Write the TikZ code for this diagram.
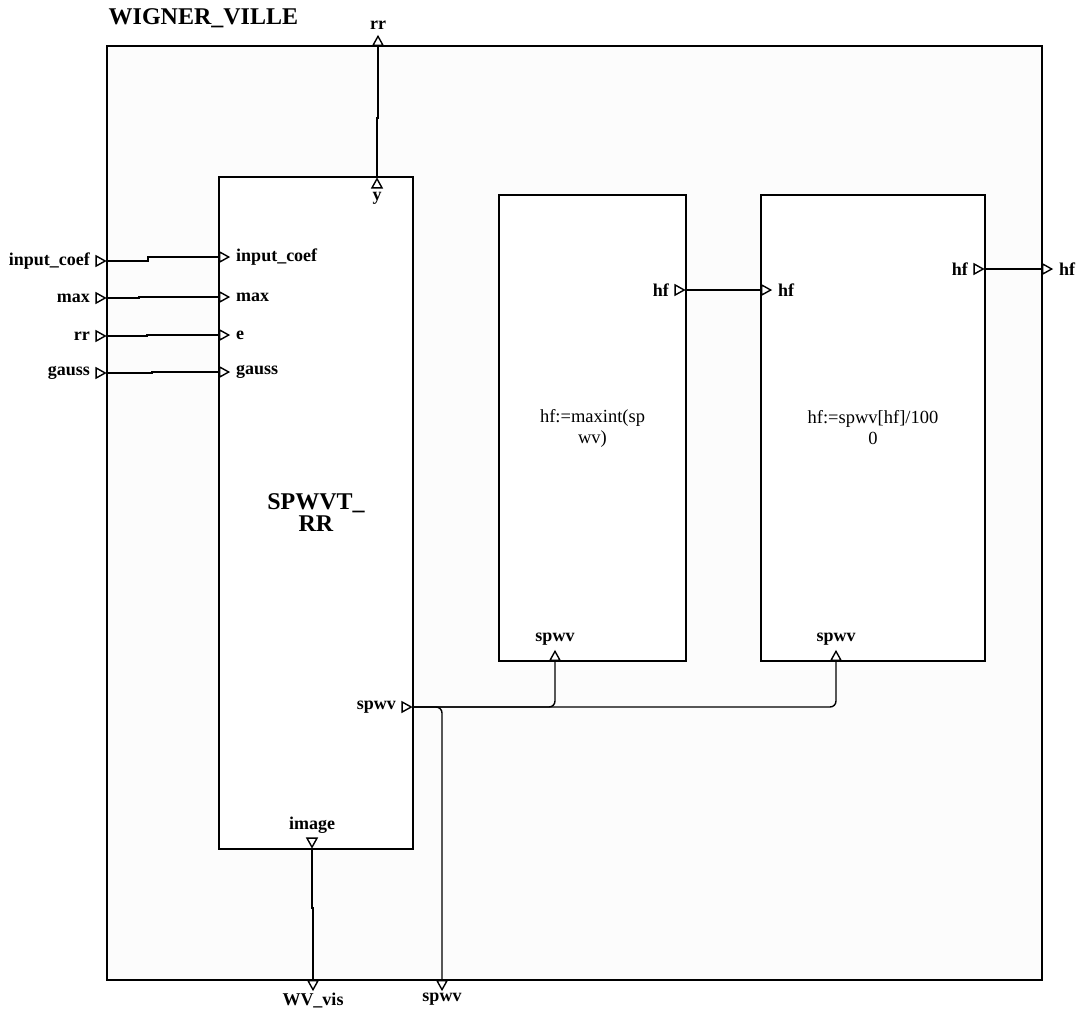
\documentclass[tikz,border=0pt]{standalone}
\usepackage{fontspec}
\setmainfont{Liberation Serif}
\usetikzlibrary{positioning, shapes.geometric}

\definecolor{sheet}{RGB}{252,252,252}

\begin{document}
\begin{tikzpicture}[
  x=1pt, y=-1pt, line width=1.4pt,
  block/.style = {draw, fill=white, rectangle, inner sep=0pt},
  port/.style  = {draw, fill=white, isosceles triangle, isosceles triangle stretches,
                  inner sep=0pt, minimum width=10pt, minimum height=9pt},
  lbl/.style   = {font=\fontsize{18}{20}\selectfont\bfseries, inner sep=0pt},
  code/.style  = {font=\fontsize{18.5}{21}\selectfont, align=center},
]
  \useasboundingbox (0,0) rectangle (1077,1010);

  % Outer frame
  \node[block, fill=sheet, minimum width=935pt, minimum height=934pt] (wv) at (574.5,513) {};
  \node[anchor=base west, inner sep=0pt, font=\fontsize{24}{26}\selectfont\bfseries]
      (title) at (108,24) {WIGNER\_VILLE};

  % Blocks
  \node[block, minimum width=194pt, minimum height=672pt, align=center,
        font=\fontsize{24}{22}\selectfont\bfseries] (spw) at (316,513) {SPWVT\_\\RR};
  \node[block, code, minimum width=187pt, minimum height=466pt] (maxi) at (592.5,428)
      {hf:=maxint(sp\\wv)};
  \node[block, code, minimum width=224pt, minimum height=466pt] (div) at (873,428)
      {hf:=spwv[hf]/100\\0};

  % Outer ports
  \node[port, anchor=apex]                            (oin1) at (107,261) {};
  \node[port, anchor=apex]                            (oin2) at (107,298) {};
  \node[port, anchor=apex]                            (oin3) at (107,336) {};
  \node[port, anchor=apex]                            (oin4) at (107,373) {};
  \node[port, anchor=lower side, shape border rotate=90]  (orr)   at (378,46)   {};
  \node[port, anchor=lower side, shape border rotate=270] (owv)   at (313,980)  {};
  \node[port, anchor=lower side, shape border rotate=270] (ospwv) at (442,980)  {};
  \node[port, anchor=lower side]                      (ohf)  at (1042,269) {};

  % Block ports
  \node[port, anchor=lower side]                      (pin1)  at (219,257) {};
  \node[port, anchor=lower side]                      (pin2)  at (219,297) {};
  \node[port, anchor=lower side]                      (pin3)  at (219,335) {};
  \node[port, anchor=lower side]                      (pin4)  at (219,372) {};
  \node[port, anchor=apex, shape border rotate=90]    (py)    at (377,177) {};
  \node[port, anchor=apex, shape border rotate=270]   (pimg)  at (312,849) {};
  \node[port, anchor=apex]                            (pspwv) at (413,707) {};
  \node[port, anchor=apex]                            (mhf)   at (686,290) {};
  \node[port, anchor=lower side, shape border rotate=90] (mspwv) at (555,661) {};
  \node[port, anchor=lower side]                      (dhfin) at (761,290) {};
  \node[port, anchor=apex]                            (dhfout) at (985,269) {};
  \node[port, anchor=lower side, shape border rotate=90] (dspwv) at (836,661) {};

  % Port labels
  \node[lbl, left=5pt of oin1]  (loin1)  {input\_coef};
  \node[lbl, left=5pt of oin2]  (loin2)  {max};
  \node[lbl, left=5pt of oin3]  (loin3)  {rr};
  \node[lbl, left=5pt of oin4]  (loin4)  {gauss};
  \node[lbl, above=4pt of orr]  (lorr)   {rr};
  \node[lbl, below=1pt of owv]  (lowv)   {WV\_vis};
  \node[lbl, below=1pt of ospwv] (lospwv) {spwv};
  \node[lbl, right=5pt of ohf]  (lohf)   {hf};
  \node[lbl, right=5pt of pin1] (lpin1)  {input\_coef};
  \node[lbl, right=5pt of pin2] (lpin2)  {max};
  \node[lbl, right=5pt of pin3] (lpin3)  {e};
  \node[lbl, right=5pt of pin4] (lpin4)  {gauss};
  \node[lbl, below=3pt of py]   (lpy)    {y};
  \node[lbl, above=3pt of pimg] (lpimg)  {image};
  \node[lbl, left=5pt of pspwv] (lpspwv) {spwv};
  \node[lbl, left=5pt of mhf]   (lmhf)   {hf};
  \node[lbl, above=3pt of mspwv] (lmspwv) {spwv};
  \node[lbl, right=5pt of dhfin] (ldhfin) {hf};
  \node[lbl, left=5pt of dhfout] (ldhfout) {hf};
  \node[lbl, above=3pt of dspwv] (ldspwv) {spwv};

  % Inputs into SPWVT_RR
  \draw (oin1.apex) -- ++(41,0) |- (pin1.lower side);
  \draw (oin2.apex) -- ++(32,0) |- (pin2.lower side);
  \draw (oin3.apex) -- ++(40,0) |- (pin3.lower side);
  \draw (oin4.apex) -- ++(45,0) |- (pin4.lower side);

  % Outputs of SPWVT_RR
  \draw (py.apex) -- ++(0,-59) -| (orr.lower side);
  \draw (pimg.apex) -- ++(0,59) -| (owv.lower side);
  \draw[rounded corners=6pt] (pspwv.apex) -| (mspwv.lower side);
  \draw[rounded corners=6pt] (pspwv.apex) -| (dspwv.lower side);
  \draw[rounded corners=6pt] (pspwv.apex) -| (ospwv.lower side);

  % hf chain
  \draw (mhf.apex) -- (dhfin.lower side);
  \draw (dhfout.apex) -- (ohf.lower side);
\end{tikzpicture}
\end{document}
